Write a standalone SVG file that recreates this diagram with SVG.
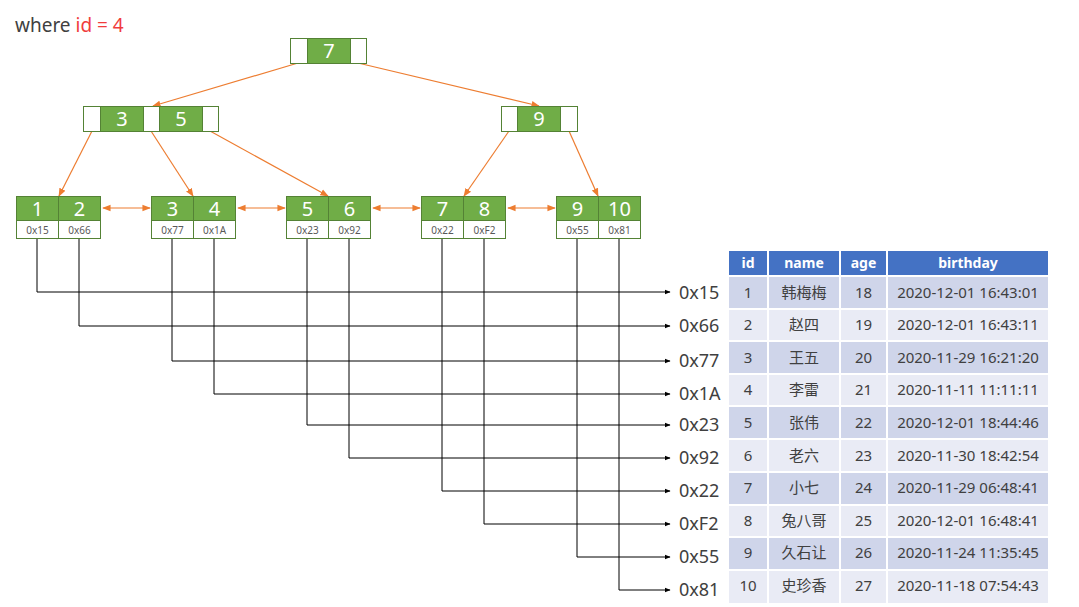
<svg xmlns="http://www.w3.org/2000/svg" width="1079" height="607" viewBox="0 0 1079 607">
<style>
.g{fill:#70AD47;stroke:#548235;stroke-width:1}
.w{fill:#FFFFFF;stroke:#548235;stroke-width:1}
.num{font-family:"Noto Sans","Liberation Sans",sans-serif;font-size:20px;fill:#FFFFFF;text-anchor:middle}
.adr{font-family:"Noto Sans","Liberation Sans",sans-serif;font-size:10px;fill:#595959;text-anchor:middle}
.lab{font-family:"Noto Sans","Liberation Sans",sans-serif;font-size:18px;fill:#404040}
.oa{stroke:#ED7D31;stroke-width:1.2;fill:none}
.ba{stroke:#000000;stroke-width:1;fill:none}
.th{fill:#4472C4}
.r1{fill:#CFD5EA}
.r2{fill:#E9EBF5}
.ht{font-family:"Noto Sans","Liberation Sans",sans-serif;font-size:14px;font-weight:bold;fill:#FFFFFF;text-anchor:middle}
.td{font-family:"Noto Sans","Liberation Sans","Noto Sans CJK SC",sans-serif;font-size:15px;fill:#404040;text-anchor:middle}
</style>
<defs>
<marker id="ao" viewBox="0 0 10 10" refX="9" refY="5" markerWidth="7" markerHeight="7" orient="auto-start-reverse"><path d="M0,1 L10,5 L0,9 z" fill="#ED7D31"/></marker>
<marker id="ab" viewBox="0 0 10 10" refX="9" refY="5" markerWidth="6" markerHeight="6" orient="auto"><path d="M0,1 L10,5 L0,9 z" fill="#000000"/></marker>
</defs>
<rect width="1079" height="607" fill="#FFFFFF"/>
<text x="15" y="32" font-family="Noto Sans, Liberation Sans, sans-serif" font-size="19" fill="#404040">where <tspan fill="#F03C3C">id = 4</tspan></text>

<g id="connectors">
<line class="oa" x1="298" y1="63" x2="153" y2="106" marker-end="url(#ao)"/>
<line class="oa" x1="358" y1="63" x2="539" y2="106" marker-end="url(#ao)"/>
<line class="oa" x1="92" y1="131" x2="59" y2="196" marker-end="url(#ao)"/>
<line class="oa" x1="151" y1="131" x2="193" y2="196" marker-end="url(#ao)"/>
<line class="oa" x1="210" y1="131" x2="328" y2="196" marker-end="url(#ao)"/>
<line class="oa" x1="509" y1="131" x2="464" y2="196" marker-end="url(#ao)"/>
<line class="oa" x1="569" y1="131" x2="598" y2="196" marker-end="url(#ao)"/>
<line class="oa" x1="103" y1="208" x2="150" y2="208" marker-start="url(#ao)" marker-end="url(#ao)"/>
<line class="oa" x1="238" y1="208" x2="285" y2="208" marker-start="url(#ao)" marker-end="url(#ao)"/>
<line class="oa" x1="373" y1="208" x2="420" y2="208" marker-start="url(#ao)" marker-end="url(#ao)"/>
<line class="oa" x1="508" y1="208" x2="555" y2="208" marker-start="url(#ao)" marker-end="url(#ao)"/>
<polyline class="ba" points="37,239 37,292 670,292" marker-end="url(#ab)"/>
<polyline class="ba" points="79,239 79,326 670,326" marker-end="url(#ab)"/>
<polyline class="ba" points="172,239 172,361 670,361" marker-end="url(#ab)"/>
<polyline class="ba" points="214,239 214,394 670,394" marker-end="url(#ab)"/>
<polyline class="ba" points="307,239 307,425 670,425" marker-end="url(#ab)"/>
<polyline class="ba" points="349,239 349,458 670,458" marker-end="url(#ab)"/>
<polyline class="ba" points="442,239 442,491 670,491" marker-end="url(#ab)"/>
<polyline class="ba" points="484,239 484,524 670,524" marker-end="url(#ab)"/>
<polyline class="ba" points="577,239 577,557 670,557" marker-end="url(#ab)"/>
<polyline class="ba" points="619,239 619,590 670,590" marker-end="url(#ab)"/>
</g>

<g id="node-root">
<rect class="w" x="290.5" y="38.5" width="76" height="25"/>
<rect class="g" x="307.5" y="38.5" width="43" height="25"/>
<text class="num" x="329" y="58">7</text>
</g>
<g id="node-3-5">
<rect class="w" x="83.5" y="106.5" width="135" height="25"/>
<rect class="g" x="100.5" y="106.5" width="43" height="25"/>
<rect class="g" x="159.5" y="106.5" width="43" height="25"/>
<text class="num" x="122" y="126">3</text>
<text class="num" x="181" y="126">5</text>
</g>
<g id="node-9">
<rect class="w" x="501.5" y="106.5" width="76" height="25"/>
<rect class="g" x="517.5" y="106.5" width="43" height="25"/>
<text class="num" x="539" y="126">9</text>
</g>
<g id="leaf-1-2">
<rect class="g" x="16.5" y="196.5" width="42" height="24"/><rect class="g" x="58.5" y="196.5" width="42" height="24"/>
<rect class="w" x="16.5" y="220.5" width="42" height="18"/><rect class="w" x="58.5" y="220.5" width="42" height="18"/>
<text class="num" x="37.5" y="216">1</text><text class="num" x="79.5" y="216">2</text>
<text class="adr" x="37.5" y="234">0x15</text><text class="adr" x="79.5" y="234">0x66</text>
</g>
<g id="leaf-3-4">
<rect class="g" x="151.5" y="196.5" width="42" height="24"/><rect class="g" x="193.5" y="196.5" width="42" height="24"/>
<rect class="w" x="151.5" y="220.5" width="42" height="18"/><rect class="w" x="193.5" y="220.5" width="42" height="18"/>
<text class="num" x="172.5" y="216">3</text><text class="num" x="214.5" y="216">4</text>
<text class="adr" x="172.5" y="234">0x77</text><text class="adr" x="214.5" y="234">0x1A</text>
</g>
<g id="leaf-5-6">
<rect class="g" x="286.5" y="196.5" width="42" height="24"/><rect class="g" x="328.5" y="196.5" width="42" height="24"/>
<rect class="w" x="286.5" y="220.5" width="42" height="18"/><rect class="w" x="328.5" y="220.5" width="42" height="18"/>
<text class="num" x="307.5" y="216">5</text><text class="num" x="349.5" y="216">6</text>
<text class="adr" x="307.5" y="234">0x23</text><text class="adr" x="349.5" y="234">0x92</text>
</g>
<g id="leaf-7-8">
<rect class="g" x="421.5" y="196.5" width="42" height="24"/><rect class="g" x="463.5" y="196.5" width="42" height="24"/>
<rect class="w" x="421.5" y="220.5" width="42" height="18"/><rect class="w" x="463.5" y="220.5" width="42" height="18"/>
<text class="num" x="442.5" y="216">7</text><text class="num" x="484.5" y="216">8</text>
<text class="adr" x="442.5" y="234">0x22</text><text class="adr" x="484.5" y="234">0xF2</text>
</g>
<g id="leaf-9-10">
<rect class="g" x="556.5" y="196.5" width="42" height="24"/><rect class="g" x="598.5" y="196.5" width="42" height="24"/>
<rect class="w" x="556.5" y="220.5" width="42" height="18"/><rect class="w" x="598.5" y="220.5" width="42" height="18"/>
<text class="num" x="577.5" y="216">9</text><text class="num" x="619.5" y="216">10</text>
<text class="adr" x="577.5" y="234">0x55</text><text class="adr" x="619.5" y="234">0x81</text>
</g>

<g id="addresses">
<text class="lab" x="679" y="299">0x15</text>
<text class="lab" x="679" y="332">0x66</text>
<text class="lab" x="679" y="367">0x77</text>
<text class="lab" x="679" y="400">0x1A</text>
<text class="lab" x="679" y="431">0x23</text>
<text class="lab" x="679" y="464">0x92</text>
<text class="lab" x="679" y="497">0x22</text>
<text class="lab" x="679" y="530">0xF2</text>
<text class="lab" x="679" y="563">0x55</text>
<text class="lab" x="679" y="596">0x81</text>
</g>

<g id="table">
<rect class="th" x="729" y="251" width="38" height="24"/>
<rect class="th" x="769" y="251" width="70" height="24"/>
<rect class="th" x="841" y="251" width="45" height="24"/>
<rect class="th" x="888" y="251" width="160" height="24"/>
<text class="ht" x="748" y="268">id</text>
<text class="ht" x="804" y="268">name</text>
<text class="ht" x="863.5" y="268">age</text>
<text class="ht" x="968" y="268">birthday</text>

<g class="r1">
<rect x="729" y="277" width="38" height="31"/><rect x="769" y="277" width="70" height="31"/><rect x="841" y="277" width="45" height="31"/><rect x="888" y="277" width="160" height="31"/>
<rect x="729" y="342" width="38" height="31"/><rect x="769" y="342" width="70" height="31"/><rect x="841" y="342" width="45" height="31"/><rect x="888" y="342" width="160" height="31"/>
<rect x="729" y="407" width="38" height="31"/><rect x="769" y="407" width="70" height="31"/><rect x="841" y="407" width="45" height="31"/><rect x="888" y="407" width="160" height="31"/>
<rect x="729" y="473" width="38" height="31"/><rect x="769" y="473" width="70" height="31"/><rect x="841" y="473" width="45" height="31"/><rect x="888" y="473" width="160" height="31"/>
<rect x="729" y="538" width="38" height="31"/><rect x="769" y="538" width="70" height="31"/><rect x="841" y="538" width="45" height="31"/><rect x="888" y="538" width="160" height="31"/>
</g>
<g class="r2">
<rect x="729" y="310" width="38" height="30"/><rect x="769" y="310" width="70" height="30"/><rect x="841" y="310" width="45" height="30"/><rect x="888" y="310" width="160" height="30"/>
<rect x="729" y="375" width="38" height="30"/><rect x="769" y="375" width="70" height="30"/><rect x="841" y="375" width="45" height="30"/><rect x="888" y="375" width="160" height="30"/>
<rect x="729" y="440" width="38" height="31"/><rect x="769" y="440" width="70" height="31"/><rect x="841" y="440" width="45" height="31"/><rect x="888" y="440" width="160" height="31"/>
<rect x="729" y="506" width="38" height="30"/><rect x="769" y="506" width="70" height="30"/><rect x="841" y="506" width="45" height="30"/><rect x="888" y="506" width="160" height="30"/>
<rect x="729" y="571" width="38" height="32"/><rect x="769" y="571" width="70" height="32"/><rect x="841" y="571" width="45" height="32"/><rect x="888" y="571" width="160" height="32"/>
</g>

<text class="td" x="748" y="298">1</text><text class="td" x="804" y="298">韩梅梅</text><text class="td" x="863.5" y="298">18</text><text class="td" x="968" y="298">2020-12-01 16:43:01</text>
<text class="td" x="748" y="330">2</text><text class="td" x="804" y="330">赵四</text><text class="td" x="863.5" y="330">19</text><text class="td" x="968" y="330">2020-12-01 16:43:11</text>
<text class="td" x="748" y="363">3</text><text class="td" x="804" y="363">王五</text><text class="td" x="863.5" y="363">20</text><text class="td" x="968" y="363">2020-11-29 16:21:20</text>
<text class="td" x="748" y="395">4</text><text class="td" x="804" y="395">李雷</text><text class="td" x="863.5" y="395">21</text><text class="td" x="968" y="395">2020-11-11 11:11:11</text>
<text class="td" x="748" y="428">5</text><text class="td" x="804" y="428">张伟</text><text class="td" x="863.5" y="428">22</text><text class="td" x="968" y="428">2020-12-01 18:44:46</text>
<text class="td" x="748" y="461">6</text><text class="td" x="804" y="461">老六</text><text class="td" x="863.5" y="461">23</text><text class="td" x="968" y="461">2020-11-30 18:42:54</text>
<text class="td" x="748" y="493">7</text><text class="td" x="804" y="493">小七</text><text class="td" x="863.5" y="493">24</text><text class="td" x="968" y="493">2020-11-29 06:48:41</text>
<text class="td" x="748" y="526">8</text><text class="td" x="804" y="526">兔八哥</text><text class="td" x="863.5" y="526">25</text><text class="td" x="968" y="526">2020-12-01 16:48:41</text>
<text class="td" x="748" y="558">9</text><text class="td" x="804" y="558">久石让</text><text class="td" x="863.5" y="558">26</text><text class="td" x="968" y="558">2020-11-24 11:35:45</text>
<text class="td" x="748" y="591">10</text><text class="td" x="804" y="591">史珍香</text><text class="td" x="863.5" y="591">27</text><text class="td" x="968" y="591">2020-11-18 07:54:43</text>
</g>
</svg>
